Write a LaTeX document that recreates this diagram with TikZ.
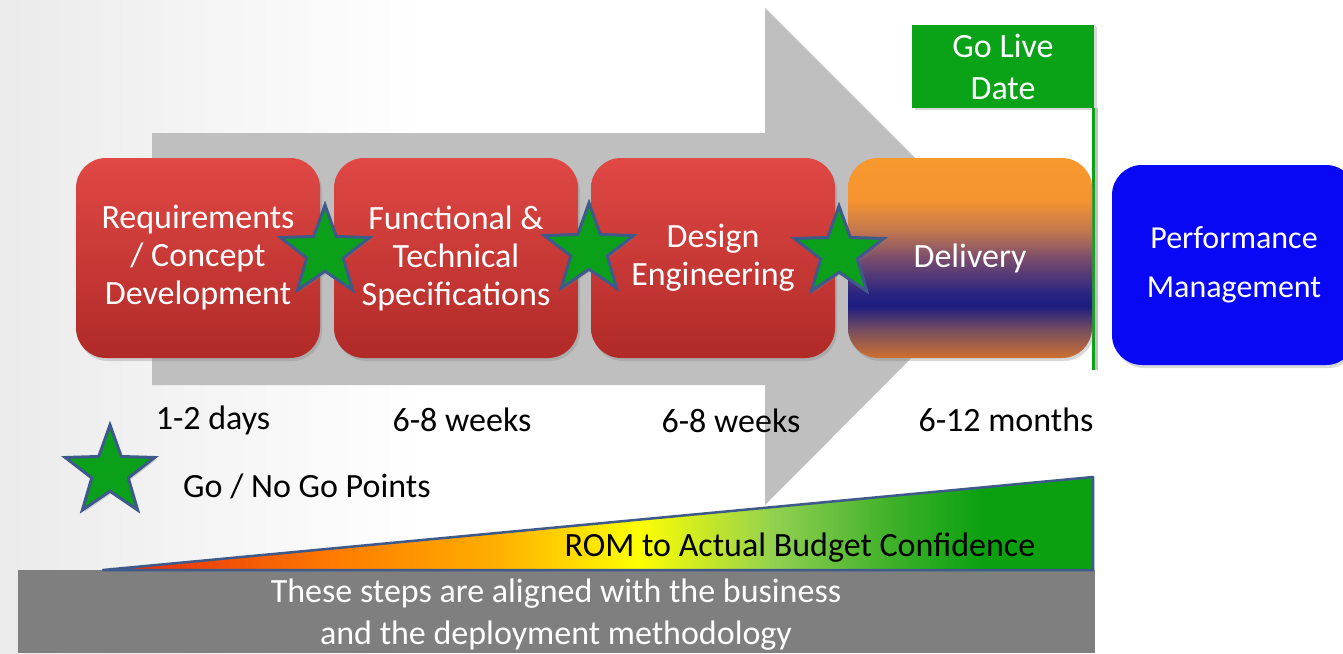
\documentclass[tikz,border=0pt]{standalone}
\usepackage{fontspec}
\setmainfont{Carlito}
\usetikzlibrary{shapes.geometric,shadows}
\definecolor{arrowgray}{RGB}{191,191,191}
\definecolor{redtop}{RGB}{224,72,68}
\definecolor{redbot}{RGB}{176,42,40}
\definecolor{perfblue}{RGB}{8,8,245}
\definecolor{stargreen}{RGB}{10,160,26}
\definecolor{starline}{RGB}{62,90,138}
\definecolor{flaggreen}{RGB}{10,162,22}
\definecolor{bargray}{RGB}{127,127,127}
\definecolor{dA}{RGB}{248,152,46}
\definecolor{dB}{RGB}{246,148,48}
\definecolor{dC}{RGB}{196,120,78}
\definecolor{dD}{RGB}{118,74,110}
\definecolor{dE}{RGB}{40,36,130}
\definecolor{dF}{RGB}{28,28,128}
\definecolor{dG}{RGB}{120,78,96}
\definecolor{dH}{RGB}{206,112,48}
\pgfdeclareverticalshading{delivshade}{100bp}{color(0bp)=(dH); color(25bp)=(dH); color(32bp)=(dG); color(38bp)=(dF); color(41bp)=(dE); color(49.5bp)=(dD); color(57bp)=(dC); color(64.5bp)=(dB); color(75bp)=(dA); color(100bp)=(dA)}
\definecolor{bA}{RGB}{224,32,16}
\definecolor{bB}{RGB}{255,122,0}
\definecolor{bC}{RGB}{255,176,0}
\definecolor{bD}{RGB}{255,255,0}
\definecolor{bE}{RGB}{144,208,80}
\definecolor{bF}{RGB}{60,176,40}
\definecolor{bG}{RGB}{10,160,16}
\pgfdeclarehorizontalshading{budgetshade}{100bp}{color(0bp)=(bA); color(25bp)=(bA); color(36.5bp)=(bB); color(45bp)=(bC); color(52bp)=(bD); color(59bp)=(bE); color(65bp)=(bF); color(69.5bp)=(bG); color(100bp)=(bG)}
\tikzset{
  boxbase/.style={rectangle, rounded corners=30pt, minimum width=244pt, minimum height=200pt, inner sep=0pt, align=center, text=white, font=\fontsize{34}{38}\selectfont, drop shadow={opacity=0.3, shadow xshift=2pt, shadow yshift=-3pt}},
  redbox/.style={boxbase, top color=redtop, bottom color=redbot},
  delivbox/.style={boxbase, shading=delivshade},
  perfbox/.style={boxbase, fill=perfblue, font=\fontsize{32}{49}\selectfont},
  gostar/.style={star, star points=5, star point ratio=2.45, minimum size=94pt, inner sep=0pt, fill=stargreen, draw=starline, line width=3pt, drop shadow={opacity=0.3, shadow xshift=2pt, shadow yshift=-2pt}},
  lbl/.style={font=\fontsize{34}{38}\selectfont, text=black, inner sep=0pt},
  flagbox/.style={rectangle, fill=flaggreen, minimum width=182pt, minimum height=83pt, inner sep=0pt, align=center, text=white, font=\fontsize{34}{42}\selectfont, drop shadow={opacity=0.3, shadow xshift=3pt, shadow yshift=-2pt}},
  pole/.style={draw=flaggreen, line width=3pt}
}
\begin{document}
\begin{tikzpicture}[x=1pt,y=-1pt]
\useasboundingbox (0,0) rectangle (1343,653);
\clip (0,0) rectangle (1343,653);
% background
\fill[white] (0,0) rectangle (1343,653);
\shade[left color=black!8, right color=white] (0,0) rectangle (420,653);
% big gray arrow
\fill[arrowgray] (152,133) -- (765,133) -- (765,8) -- (1013,256) -- (765,505) -- (765,385) -- (152,385) -- cycle;
% flag and pole
\node[flagbox] (golive) at (1003,66.5) {Go Live\\Date};
\coordinate (poletop) at (1093,108);
\coordinate (polebot) at (1093,370);
\draw[black!25, line width=3pt] ([xshift=3pt]poletop) -- ([xshift=3pt]polebot);
\draw[pole] (poletop) -- (polebot);
% boxes
\node[redbox] (req) at (198,258) {Requirements\\/ Concept\\Development};
\node[redbox] (func) at (456,258) {Functional \&\\Technical\\Specifications};
\node[redbox] (design) at (713,258) {Design\\Engineering};
\node[delivbox] (deliv) at (970,258) {Delivery};
\node[perfbox] (perf) at (1234,265) {Performance\\Management};
% stars
\node[gostar] (s1) at (325,252) {};
\node[gostar] (s2) at (589,250) {};
\node[gostar] (s3) at (839,253) {};
% durations
\node[lbl] (d1) at (213,420) {1-2 days};
\node[lbl] (d2) at (462,420) {6-8 weeks};
\node[lbl] (d3) at (731,421) {6-8 weeks};
\node[lbl] (d4) at (1006,420) {6-12 months};
% legend
\node[gostar] (ls) at (110,472) {};
\node[lbl, anchor=west] (lt) at (183,486) {Go / No Go Points};
% bottom bar
\fill[bargray] (18,570) rectangle (1095,653);
\node[lbl, text=white, align=center, font=\fontsize{34}{42}\selectfont] (bt) at (556,615) {These steps are aligned with the business\\and the deployment methodology};
% budget triangle
\coordinate (ta) at (103,570);
\coordinate (tb) at (1093,477);
\coordinate (tc) at (1093,570);
\shade[shading=budgetshade] (ta) -- (tb) -- (tc) -- cycle;
\draw[starline, line width=2.5pt, line join=round] (ta) -- (tb) -- (tc) -- cycle;
\node[lbl] (rom) at (800,548) {ROM to Actual Budget Confidence};
\end{tikzpicture}
\end{document}
